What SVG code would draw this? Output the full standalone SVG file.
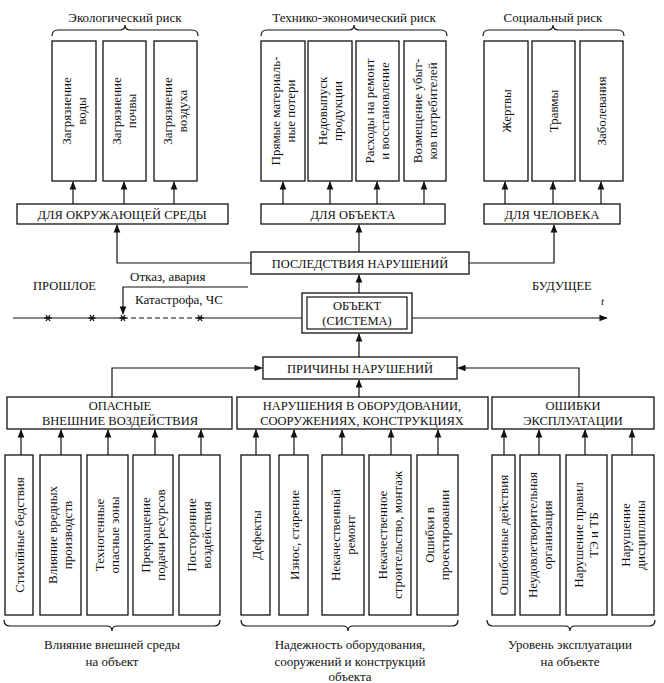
<svg xmlns="http://www.w3.org/2000/svg" width="664" height="683" viewBox="0 0 664 683" font-family="'Liberation Serif', 'DejaVu Serif', serif">
<style>
text{font-family:'Liberation Serif','DejaVu Serif',serif;font-size:13px;fill:#111}
.c{text-anchor:middle}
.b{fill:#fff;stroke:#111;stroke-width:1.3}
.l{fill:none;stroke:#111;stroke-width:1.2}
.cap{font-size:12.5px}
</style>
<defs>
<marker id="a" viewBox="0 0 10 10" refX="9" refY="5" markerWidth="7" markerHeight="7" orient="auto"><path d="M0,1 L10,5 L0,9 Z" fill="#111"/></marker>
<g id="st"><path d="M-3.5,0 H3.5 M-2,-3 L2,3 M2,-3 L-2,3" stroke="#111" stroke-width="1.3"/></g>
</defs>
<rect width="664" height="683" fill="#fff"/>

<g id="headers">
<text class="c" x="125" y="22">Экологический риск</text>
<text class="c" x="354" y="22">Технико-экономический риск</text>
<text class="c" x="553" y="22">Социальный риск</text>
<path class="l" d="M52 36 Q52 30 58 30 L120 30 Q125 30 125 25 Q125 30 130 30 L192 30 Q198 30 198 36"/>
<path class="l" d="M261 36 Q261 30 267 30 L349 30 Q354 30 354 25 Q354 30 359 30 L441 30 Q447 30 447 36"/>
<path class="l" d="M483 36 Q483 30 489 30 L548 30 Q553 30 553 25 Q553 30 558 30 L618 30 Q624 30 624 36"/>
</g>

<g id="eco-boxes">
<rect class="b" x="52" y="41" width="44" height="140"/>
<text class="c" transform="translate(74,111) rotate(-90)"><tspan x="0" y="-3">Загрязнение</tspan><tspan x="0" y="12">воды</tspan></text>
<rect class="b" x="103" y="41" width="43" height="140"/>
<text class="c" transform="translate(124,111) rotate(-90)"><tspan x="0" y="-3">Загрязнение</tspan><tspan x="0" y="12">почвы</tspan></text>
<rect class="b" x="154" y="41" width="43" height="140"/>
<text class="c" transform="translate(175,111) rotate(-90)"><tspan x="0" y="-3">Загрязнение</tspan><tspan x="0" y="12">воздуха</tspan></text>
</g>

<g id="tech-boxes">
<rect class="b" x="261" y="41" width="44" height="140"/>
<text class="c" transform="translate(283,111) rotate(-90)"><tspan x="0" y="-3">Прямые материаль-</tspan><tspan x="0" y="12">ные потери</tspan></text>
<rect class="b" x="308" y="41" width="44" height="140"/>
<text class="c" transform="translate(330,111) rotate(-90)"><tspan x="0" y="-3">Недовыпуск</tspan><tspan x="0" y="12">продукции</tspan></text>
<rect class="b" x="356" y="41" width="43" height="140"/>
<text class="c" transform="translate(377,111) rotate(-90)"><tspan x="0" y="-3">Расходы на ремонт</tspan><tspan x="0" y="12">и восстановление</tspan></text>
<rect class="b" x="404" y="41" width="42" height="140"/>
<text class="c" transform="translate(425,111) rotate(-90)"><tspan x="0" y="-3">Возмещение убыт-</tspan><tspan x="0" y="12">ков потребителей</tspan></text>
</g>

<g id="soc-boxes">
<rect class="b" x="484" y="41" width="44" height="140"/>
<text class="c" transform="translate(506,111) rotate(-90)"><tspan x="0" y="5">Жертвы</tspan></text>
<rect class="b" x="532" y="41" width="43" height="140"/>
<text class="c" transform="translate(553,111) rotate(-90)"><tspan x="0" y="5">Травмы</tspan></text>
<rect class="b" x="580" y="41" width="43" height="140"/>
<text class="c" transform="translate(601,111) rotate(-90)"><tspan x="0" y="5">Заболевания</tspan></text>
</g>

<g id="for-env"><rect class="b" x="17" y="204" width="211" height="20"/><text class="c cap" x="122" y="219">ДЛЯ ОКРУЖАЮЩЕЙ СРЕДЫ</text></g>
<g id="for-obj"><rect class="b" x="261" y="204" width="184" height="20"/><text class="c cap" x="353" y="219">ДЛЯ ОБЪЕКТА</text></g>
<g id="for-man"><rect class="b" x="484" y="204" width="136" height="20"/><text class="c cap" x="552" y="219">ДЛЯ ЧЕЛОВЕКА</text></g>
<g id="consequences"><rect class="b" x="251" y="252" width="218" height="22"/><text class="c cap" x="360" y="268">ПОСЛЕДСТВИЯ НАРУШЕНИЙ</text></g>

<g id="object">
<rect class="b" x="302" y="293" width="110" height="40"/>
<rect class="l" x="307" y="297" width="100" height="32"/>
<text class="c cap" x="357" y="310">ОБЪЕКТ</text>
<text class="c cap" x="357" y="325">(СИСТЕМА)</text>
</g>

<g id="timeline">
<text class="cap" x="33" y="290">ПРОШЛОЕ</text>
<text class="cap" x="532" y="290">БУДУЩЕЕ</text>
<text x="601" y="305" style="font-style:italic;font-size:11px">t</text>
<text x="130" y="281">Отказ,  авария</text>
<text x="135" y="304">Катастрофа,  ЧС</text>
<path class="l" d="M13 318 H123"/>
<path class="l" d="M123 318 H200" stroke-dasharray="5 3"/>
<path class="l" d="M200 318 H302"/>
<path class="l" d="M412 318 H607" marker-end="url(#a)"/>
<path class="l" d="M248 287 H123 V314" marker-end="url(#a)"/>
<use href="#st" x="48" y="318"/><use href="#st" x="92" y="318"/><use href="#st" x="123" y="318"/><use href="#st" x="200" y="318"/>
</g>

<g id="causes"><rect class="b" x="263" y="357" width="194" height="22"/><text class="c cap" x="360" y="373">ПРИЧИНЫ НАРУШЕНИЙ</text></g>
<g id="ext"><rect class="b" x="7" y="397" width="225" height="32"/><text class="c cap" x="120" y="410">ОПАСНЫЕ</text><text class="c cap" x="120" y="425">ВНЕШНИЕ ВОЗДЕЙСТВИЯ</text></g>
<g id="equip"><rect class="b" x="237" y="397" width="251" height="32"/><text class="c cap" x="362" y="410">НАРУШЕНИЯ В  ОБОРУДОВАНИИ,</text><text class="c cap" x="362" y="425">СООРУЖЕНИЯХ, КОНСТРУКЦИЯХ</text></g>
<g id="oper"><rect class="b" x="492" y="397" width="162" height="32"/><text class="c cap" x="573" y="410">ОШИБКИ</text><text class="c cap" x="573" y="425">ЭКСПЛУАТАЦИИ</text></g>

<g id="ext-boxes">
<rect class="b" x="5" y="455" width="28" height="160"/>
<text class="c" transform="translate(19,535) rotate(-90)"><tspan x="0" y="5">Стихийные бедствия</tspan></text>
<rect class="b" x="40" y="455" width="41" height="160"/>
<text class="c" transform="translate(60,535) rotate(-90)"><tspan x="0" y="-3">Влияние вредных</tspan><tspan x="0" y="12">производств</tspan></text>
<rect class="b" x="87" y="455" width="41" height="160"/>
<text class="c" transform="translate(107,535) rotate(-90)"><tspan x="0" y="-3">Техногенные</tspan><tspan x="0" y="12">опасные зоны</tspan></text>
<rect class="b" x="133" y="455" width="40" height="160"/>
<text class="c" transform="translate(153,535) rotate(-90)"><tspan x="0" y="-3">Прекращение</tspan><tspan x="0" y="12">подачи ресурсов</tspan></text>
<rect class="b" x="179" y="455" width="41" height="160"/>
<text class="c" transform="translate(199,535) rotate(-90)"><tspan x="0" y="-3">Посторонние</tspan><tspan x="0" y="12">воздействия</tspan></text>
</g>

<g id="equip-boxes">
<rect class="b" x="241" y="455" width="29" height="160"/>
<text class="c" transform="translate(256,535) rotate(-90)"><tspan x="0" y="5">Дефекты</tspan></text>
<rect class="b" x="279" y="455" width="29" height="160"/>
<text class="c" transform="translate(294,535) rotate(-90)"><tspan x="0" y="5">Износ,  старение</tspan></text>
<rect class="b" x="322" y="455" width="42" height="160"/>
<text class="c" transform="translate(343,535) rotate(-90)"><tspan x="0" y="-3">Некачественный</tspan><tspan x="0" y="12">ремонт</tspan></text>
<rect class="b" x="369" y="455" width="42" height="160"/>
<text class="c" transform="translate(390,535) rotate(-90)"><tspan x="0" y="-3">Некачественное</tspan><tspan x="0" y="12">строительство, монтаж</tspan></text>
<rect class="b" x="417" y="455" width="41" height="160"/>
<text class="c" transform="translate(437,535) rotate(-90)"><tspan x="0" y="-3">Ошибки в</tspan><tspan x="0" y="12">проектировании</tspan></text>
</g>

<g id="oper-boxes">
<rect class="b" x="492" y="455" width="23" height="160"/>
<text class="c" transform="translate(503,535) rotate(-90)"><tspan x="0" y="5">Ошибочные действия</tspan></text>
<rect class="b" x="520" y="455" width="40" height="160"/>
<text class="c" transform="translate(540,535) rotate(-90)"><tspan x="0" y="-3">Неудовлетворительная</tspan><tspan x="0" y="12">организация</tspan></text>
<rect class="b" x="566" y="455" width="41" height="160"/>
<text class="c" transform="translate(586,535) rotate(-90)"><tspan x="0" y="-3">Нарушение правил</tspan><tspan x="0" y="12">ТЭ и ТБ</tspan></text>
<rect class="b" x="612" y="455" width="42" height="160"/>
<text class="c" transform="translate(633,535) rotate(-90)"><tspan x="0" y="-3">Нарушение</tspan><tspan x="0" y="12">дисциплины</tspan></text>
</g>

<g id="connectors">
<path class="l" d="M73 204 V182" marker-end="url(#a)"/>
<path class="l" d="M124 204 V182" marker-end="url(#a)"/>
<path class="l" d="M174 204 V182" marker-end="url(#a)"/>
<path class="l" d="M283 204 V182" marker-end="url(#a)"/>
<path class="l" d="M330 204 V182" marker-end="url(#a)"/>
<path class="l" d="M377 204 V182" marker-end="url(#a)"/>
<path class="l" d="M424 204 V182" marker-end="url(#a)"/>
<path class="l" d="M505 204 V182" marker-end="url(#a)"/>
<path class="l" d="M553 204 V182" marker-end="url(#a)"/>
<path class="l" d="M601 204 V182" marker-end="url(#a)"/>
<path class="l" d="M251 263 H117 V225" marker-end="url(#a)"/>
<path class="l" d="M469 263 H554 V225" marker-end="url(#a)"/>
<path class="l" d="M359 252 V225" marker-end="url(#a)"/>
<path class="l" d="M359 293 V275" marker-end="url(#a)"/>
<path class="l" d="M359 357 V334" marker-end="url(#a)"/>
<path class="l" d="M359 397 V380" marker-end="url(#a)"/>
<path class="l" d="M112 397 V368 H262" marker-end="url(#a)"/>
<path class="l" d="M579 397 V368 H458" marker-end="url(#a)"/>
<path class="l" d="M21 455 V430" marker-end="url(#a)"/>
<path class="l" d="M61 455 V430" marker-end="url(#a)"/>
<path class="l" d="M108 455 V430" marker-end="url(#a)"/>
<path class="l" d="M155 455 V430" marker-end="url(#a)"/>
<path class="l" d="M201 455 V430" marker-end="url(#a)"/>
<path class="l" d="M256 455 V430" marker-end="url(#a)"/>
<path class="l" d="M294 455 V430" marker-end="url(#a)"/>
<path class="l" d="M342 455 V430" marker-end="url(#a)"/>
<path class="l" d="M391 455 V430" marker-end="url(#a)"/>
<path class="l" d="M438 455 V430" marker-end="url(#a)"/>
<path class="l" d="M504 455 V430" marker-end="url(#a)"/>
<path class="l" d="M539 455 V430" marker-end="url(#a)"/>
<path class="l" d="M585 455 V430" marker-end="url(#a)"/>
<path class="l" d="M632 455 V430" marker-end="url(#a)"/>
</g>

<g id="footers">
<path class="l" d="M4 620 Q4 626 10 626 L107 626 Q112 626 112 631 Q112 626 117 626 L214 626 Q220 626 220 620"/>
<path class="l" d="M241 620 Q241 626 247 626 L343 626 Q348 626 348 631 Q348 626 353 626 L452 626 Q458 626 458 620"/>
<path class="l" d="M487 620 Q487 626 493 626 L565 626 Q570 626 570 631 Q570 626 575 626 L649 626 Q655 626 655 620"/>
<text class="c" x="112" y="649">Влияние внешней среды</text>
<text class="c" x="112" y="666">на объект</text>
<text class="c" x="350" y="649">Надежность оборудования,</text>
<text class="c" x="350" y="666">сооружений и конструкций</text>
<text class="c" x="350" y="681">объекта</text>
<text class="c" x="570" y="649">Уровень эксплуатации</text>
<text class="c" x="570" y="666">на объекте</text>
</g>
</svg>
